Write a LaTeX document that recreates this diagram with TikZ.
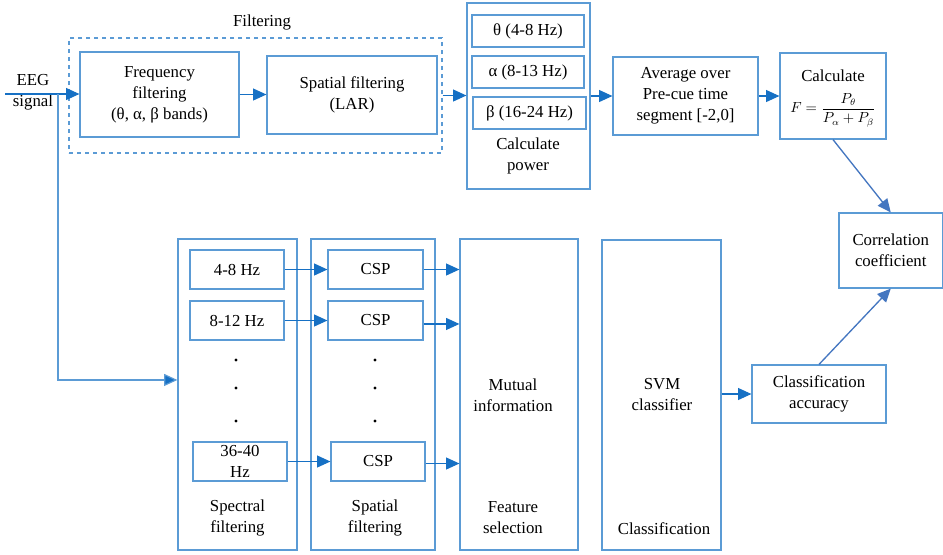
\documentclass[tikz,border=0pt]{standalone}
\usepackage{fontspec}
\setmainfont{Liberation Serif}
\usetikzlibrary{arrows.meta,fit,calc}
\definecolor{boxblue}{RGB}{91,155,213}
\definecolor{arrblue}{RGB}{22,112,196}
\definecolor{diagblue}{RGB}{68,118,192}
\begin{document}
\begin{tikzpicture}[x=0.75pt,y=-0.75pt,
  font=\fontsize{12.6}{15.75}\selectfont,
  box/.style={draw=boxblue, line width=0.9pt, inner sep=0pt},
  dashbox/.style={draw=boxblue, line width=0.8pt, dashed, inner sep=0pt},
  lbl/.style={inner sep=0pt, align=center},
  txt/.style={label={[lbl]center:#1}},
  arr/.style={draw=arrblue, line width=0.8pt, -{Triangle[length=10pt,width=9pt]}},
  diag/.style={draw=diagblue, line width=1pt, -{Triangle[length=10pt,width=9pt]}},
  dotmark/.style={fill=black, draw=none, circle, inner sep=0pt, minimum size=2.6pt}]
\useasboundingbox (0,0) rectangle (943,554);

% ---------- upper path: filtering and power ----------
\node[lbl] (filtlbl) at (262,22) {Filtering};
\node[dashbox, fit={(69,38) (442,153)}] (filt) {};
\node[box, fit={(80,52) (239,137)}, txt={Frequency\\filtering\\(θ, α, β bands)}] (freq) {};
\node[box, fit={(267,56) (437,134)}, txt={Spatial filtering\\(LAR)}] (spat) {};

\node[box, fit={(467,3) (590,189)}] (pow) {};
\node[box, fit={(472,15) (584,47)}, txt={θ (4-8 Hz)}] (theta) {};
\node[box, fit={(472,56) (584,88)}, txt={α (8-13 Hz)}] (alpha) {};
\node[box, fit={(473,97) (586,129)}, txt={β (16-24 Hz)}] (beta) {};
\node[lbl] (powlbl) at (528,156) {Calculate\\power};

\node[box, fit={(613,57) (758,135)}, txt={Average over\\Pre-cue time\\segment [-2,0]}] (avg) {};
\node[box, fit={(780,53) (886,139)}] (calc) {};
\node[lbl] (calclbl) at (833,76) {Calculate};
\node[lbl, font=\fontsize{10.5}{12}\selectfont] (formula) at (833,110)
  {$F=\displaystyle\frac{P_\theta}{P_\alpha+P_\beta}$};

\node[box, fit={(839,213) (942.5,288)}, txt={Correlation\\coefficient}] (corr) {};

% ---------- input ----------
\node[lbl] (eeg) at (33,92) {EEG\\signal};
\coordinate (src) at (5,94);
\coordinate (br) at (58,94);

% ---------- lower path: filter bank and classification ----------
\node[box, fit={(178,239) (297,550)}] (spec) {};
\node[box, fit={(190,250) (284,289)}, txt={4-8 Hz}] (s1) {};
\node[box, fit={(190,301) (284,340)}, txt={8-12 Hz}] (s2) {};
\node[box, fit={(193,442) (287,481)}, txt={36-40\\Hz}] (s3) {};
\node[lbl] (speclbl) at (237.5,518) {Spectral\\filtering};
\node[dotmark] (sd1) at (236,360) {};
\node[dotmark] (sd2) at (236,388) {};
\node[dotmark] (sd3) at (236,421) {};

\node[box, fit={(311,239) (435,550)}] (csp) {};
\node[box, fit={(328,250) (423,289)}, txt={CSP}] (c1) {};
\node[box, fit={(328,301) (423,340)}, txt={CSP}] (c2) {};
\node[box, fit={(331,442) (425,481)}, txt={CSP}] (c3) {};
\node[lbl] (csplbl) at (375,518) {Spatial\\filtering};
\node[dotmark] (cd1) at (375,360) {};
\node[dotmark] (cd2) at (375,388) {};
\node[dotmark] (cd3) at (375,421) {};

\node[box, fit={(460,239) (578,550)}] (mi) {};
\node[lbl] (milbl) at (513,395) {Mutual\\information};
\node[lbl] (fslbl) at (513,518) {Feature\\selection};

\node[box, fit={(602,240) (721,550)}] (svm) {};
\node[lbl] (svmlbl) at (662,395) {SVM\\classifier};
\node[lbl] (clslbl) at (664,529) {Classification};

\node[box, fit={(752,365) (886,423)}, txt={Classification\\accuracy}] (acc) {};

% ---------- connectors ----------
\draw[arr] (src) -- (freq.west |- src);
\draw[draw=boxblue, line width=0.9pt, -{Triangle[length=10pt,width=9pt,fill=arrblue]}]
  (br) |- ([yshift=10.9pt]spec.west);
\draw[arr] (freq.east) -- (freq.east -| spat.west);
\draw[arr] (filt.east) -- (filt.east -| pow.west);
\draw[arr] (avg.west -| pow.east) -- (avg.west);
\draw[arr] (avg.east) -- (avg.east -| calc.west);
\draw[diag] (calc.south) -- (corr.north);
\draw[diag] (acc.north) -- (corr.south);

\draw[arr] (s1.east) -- (s1.east -| c1.west);
\draw[arr] (s2.east) -- (s2.east -| c2.west);
\draw[arr] (s3.east) -- (s3.east -| c3.west);
\draw[arr] (c1.east) -- (c1.east -| mi.west);
\draw[arr] ([yshift=-2.6pt]c2.east) -- ([yshift=-2.6pt]c2.east -| mi.west);
\draw[arr] ([yshift=-1.5pt]c3.east) -- ([yshift=-1.5pt]c3.east -| mi.west);
\draw[arr] (svm.east |- acc.west) -- (acc.west);
\end{tikzpicture}
\end{document}
